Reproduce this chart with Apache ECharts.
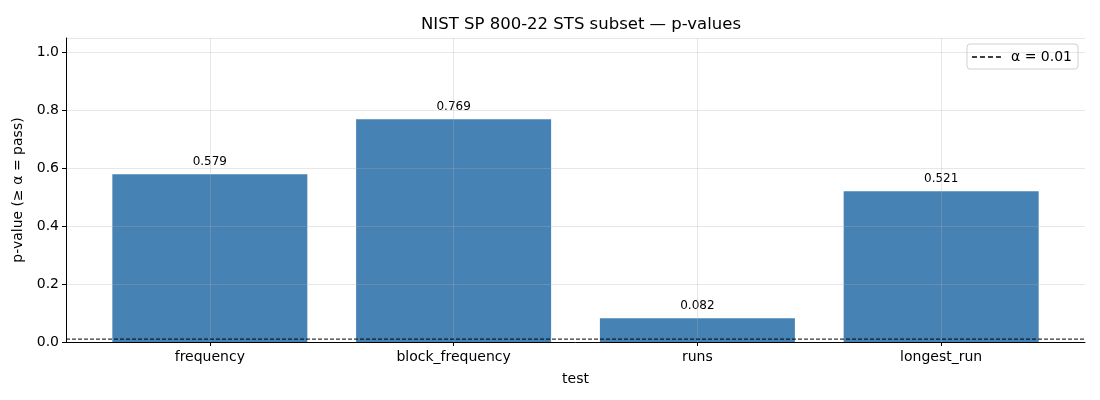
<!DOCTYPE html>
<html>
<head>
<meta charset="utf-8">
<script src="https://cdn.jsdelivr.net/npm/echarts@6/dist/echarts.min.js"></script>
<style>
  html, body { margin: 0; padding: 0; background: #fff; }
  #chart { width: 1100px; height: 400px; }
</style>
</head>
<body>
<div id="chart"></div>
<script>
// data
const tests = ['frequency', 'block_frequency', 'runs', 'longest_run'];
const pValues = [0.579, 0.769, 0.082, 0.521];
const alpha = 0.01;

// matplotlib-like x limits around the bars (0.05 margin on a 0.8 bar width)
const xMin = -0.59;
const xMax = tests.length - 1 + 0.59;

const font = 'DejaVu Sans, sans-serif';
const gridLine = 'rgba(176,176,176,0.3)';
// dashed line for the legend entry
const dashIcon = 'path://M0,0h5v1.6h-5z M8,0h5v1.6h-5z M16,0h5v1.6h-5z M24,0h5v1.6h-5z';

var chartDom = document.getElementById('chart');
var myChart = echarts.init(chartDom);
var option;

option = {
    animation: false,
    title: {
        text: 'NIST SP 800-22 STS subset \u2014 p-values',
        left: 576,
        textAlign: 'center',
        top: 11,
        textStyle: {
            fontFamily: font,
            fontSize: 16.5,
            fontWeight: 'normal',
            color: '#000'
        }
    },
    legend: {
        right: 22,
        top: 44,
        data: [{ name: '\u03b1 = ' + alpha, icon: dashIcon, itemStyle: { color: '#000' } }],
        itemWidth: 29,
        itemHeight: 2,
        borderColor: '#d0d0d0',
        borderWidth: 1,
        borderRadius: 3,
        padding: [6, 6, 5, 5],
        textStyle: { fontFamily: font, fontSize: 14, color: '#000', padding: [0, 0, 0, 5] }
    },
    grid: {
        left: 66,
        right: 15,
        top: 38,
        bottom: 58
    },
    xAxis: {
        type: 'value',
        min: xMin,
        max: xMax,
        z: 3,
        name: 'test',
        nameLocation: 'middle',
        nameGap: 30,
        nameTextStyle: { fontFamily: font, fontSize: 14, color: '#000' },
        axisLine: { show: true, onZero: false, lineStyle: { color: '#000', width: 1 } },
        axisTick: {
            show: true,
            length: 4,
            lineStyle: { color: '#000' },
            customValues: tests.map((t, i) => i)
        },
        axisLabel: {
            customValues: tests.map((t, i) => i),
            formatter: v => tests[Math.round(v)],
            fontFamily: font,
            fontSize: 14,
            color: '#000',
            margin: 8
        },
        splitLine: { show: true, lineStyle: { color: gridLine, width: 1 } }
    },
    yAxis: {
        type: 'value',
        min: 0,
        max: 1.05,
        interval: 0.2,
        z: 3,
        name: 'p-value (\u2265 \u03b1 = pass)',
        nameLocation: 'middle',
        nameGap: 37,
        nameTextStyle: { fontFamily: font, fontSize: 14, color: '#000' },
        axisLine: { show: true, onZero: false, lineStyle: { color: '#000', width: 1 } },
        axisTick: { show: true, length: 4, lineStyle: { color: '#000' } },
        axisLabel: {
            formatter: v => v.toFixed(1),
            fontFamily: font,
            fontSize: 14,
            color: '#000',
            margin: 7,
            showMaxLabel: false
        },
        splitLine: { show: true, lineStyle: { color: gridLine, width: 1 } }
    },
    series: [
        {
            type: 'bar',
            name: 'p-value',
            data: pValues.map((v, i) => [i, v]),
            barWidth: 195,
            itemStyle: { color: '#4682b4' },
            label: {
                show: true,
                position: 'top',
                distance: 6,
                formatter: p => p.value[1].toFixed(3),
                fontFamily: font,
                fontSize: 12,
                color: '#000'
            }
        },
        {
            type: 'line',
            name: '\u03b1 = ' + alpha,
            data: [[xMin, alpha], [xMax, alpha]],
            symbol: 'none',
            z: 4,
            lineStyle: { color: '#000', width: 1, type: [4, 2] },
            itemStyle: { color: '#000' }
        }
    ]
};
option && myChart.setOption(option);
</script>
</body>
</html>
